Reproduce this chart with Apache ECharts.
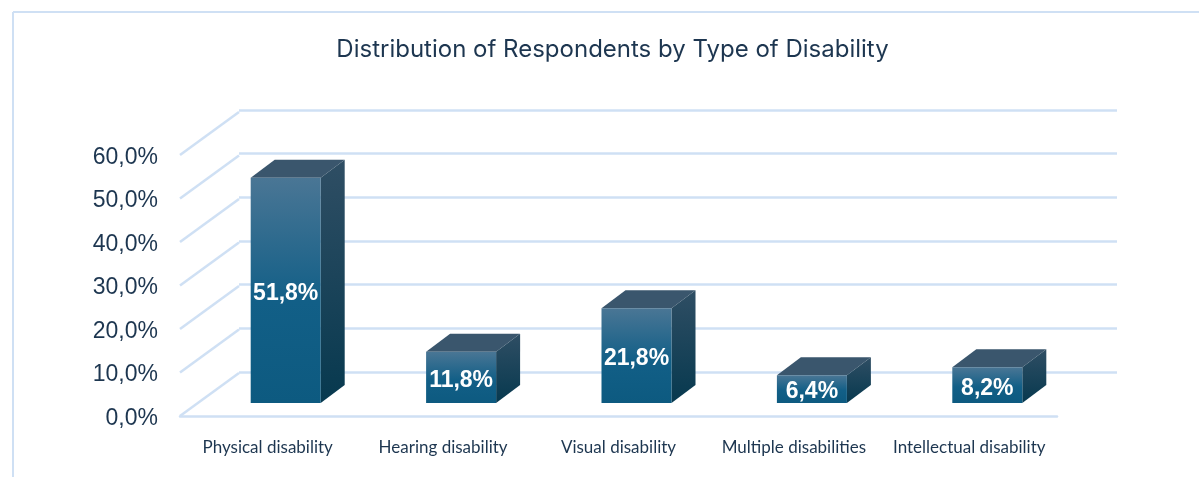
<!DOCTYPE html>
<html><head><meta charset="utf-8">
<style>html,body{margin:0;padding:0;background:#fff}#c{width:1199px;height:477px}</style>
<script src="https://cdn.jsdelivr.net/npm/echarts@6/dist/echarts.min.js"></script>
</head><body><div id="c"></div>
<script>
const categories = ['Physical disability','Hearing disability','Visual disability','Multiple disabilities','Intellectual disability'];
const shares = [51.8, 11.8, 21.8, 6.4, 8.2];
const tickValues = [0, 10, 20, 30, 40, 50, 60];
const chartTitle = 'Distribution of Respondents by Type of Disability';

const pct = v => v.toFixed(1).replace('.', ',') + '%';
const LINE = '#cfe0f4', INK = '#1d3650';
const WALL_DX = 59, WALL_DY = -43;
const BAR_W = 70, BAR_DX = 24, BAR_DY = -18;
const vGrad = (a, b, c) => new echarts.graphic.LinearGradient(0, 0, 0, 1,
  c ? [{offset:0,color:a},{offset:.55,color:b},{offset:1,color:c}] : [{offset:0,color:a},{offset:1,color:b}]);

const chart = echarts.init(document.getElementById('c'), null, {renderer:'canvas'});
chart.setOption({
  animation:false,
  backgroundColor:'#fff',
  title:{text:chartTitle,left:607.5,top:33,textAlign:'center',
    textStyle:{fontFamily:'Inter',fontWeight:400,fontSize:24,color:INK}},
  graphic:[
    {type:'line',silent:true,shape:{x1:13,y1:12,x2:1199,y2:12},style:{stroke:LINE,lineWidth:2}},
    {type:'line',silent:true,shape:{x1:13,y1:12,x2:13,y2:477},style:{stroke:LINE,lineWidth:2}}
  ],
  grid:[
    {left:180,top:155,width:877,height:261},   // front plane
    {left:239,top:110,width:878,height:262},   // back wall
    {left:198,top:142,width:877,height:261},   // plane of the bars
    {left:180,top:157.5,width:877,height:261}  // tick labels of the value axis
  ],
  xAxis:[
    {type:'category',gridIndex:0,data:categories,axisTick:{show:false},
      axisLine:{lineStyle:{color:LINE,width:2.5}},
      axisLabel:{margin:23,fontFamily:'Lato',fontSize:17,color:INK,interval:0}},
    {type:'category',gridIndex:1,data:categories,axisTick:{show:false},axisLine:{show:false},axisLabel:{show:false}},
    {type:'category',gridIndex:2,data:categories,axisTick:{show:false},axisLine:{show:false},axisLabel:{show:false}},
    {type:'category',gridIndex:3,data:categories,axisTick:{show:false},axisLine:{show:false},axisLabel:{show:false}}
  ],
  yAxis:[
    {type:'value',gridIndex:0,min:0,max:60,interval:10,axisLine:{show:false},axisTick:{show:false},
      splitLine:{show:false},axisLabel:{show:false}},
    {type:'value',gridIndex:1,min:0,max:60,interval:10,axisLine:{show:false},axisTick:{show:false},
      axisLabel:{show:false},splitLine:{lineStyle:{color:LINE,width:2.5}}},
    {type:'value',gridIndex:2,min:0,max:60,interval:10,axisLine:{show:false},axisTick:{show:false},
      axisLabel:{show:false},splitLine:{show:false}},
    {type:'value',gridIndex:3,min:0,max:60,interval:10,axisLine:{show:false},axisTick:{show:false},
      splitLine:{show:false},
      axisLabel:{margin:22,fontFamily:'Liberation Sans',fontSize:23,color:INK,formatter:pct}}
  ],
  series:[
    {type:'custom',xAxisIndex:0,yAxisIndex:0,silent:true,z:1,
      data:tickValues.map(v=>[0,v]),
      renderItem(params,api){
        const y = api.coord([0,api.value(1)])[1], x = params.coordSys.x;
        return {type:'line',shape:{x1:x,y1:y,x2:x+WALL_DX,y2:y+WALL_DY},style:{stroke:LINE,lineWidth:2.5}};
      }},
    {type:'custom',xAxisIndex:2,yAxisIndex:2,silent:true,z:5,
      data:shares.map((v,i)=>[i,v]),
      label:{show:false},
      renderItem(params,api){
        const [cx,top] = api.coord([api.value(0),api.value(1)]);
        const base = api.coord([api.value(0),0])[1];
        const l = cx-BAR_W/2, r = cx+BAR_W/2, h = base-top;
        const midY = Math.min(h/2+3, h);
        return {type:'group',children:[
          {type:'polygon',shape:{points:[[l,top],[l+BAR_DX,top+BAR_DY],[r+BAR_DX,top+BAR_DY],[r,top]]},
            style:{fill:'#3a566d'}},
          {type:'polygon',shape:{points:[[r,top],[r+BAR_DX,top+BAR_DY],[r+BAR_DX,base+BAR_DY],[r,base]]},
            style:{fill:vGrad('#2f4e64','#07394f')}},
          {type:'rect',shape:{x:l,y:top,width:BAR_W,height:h},
            style:{fill:vGrad('#4a7695','#125f87','#0d5a80')}},
          {type:'text',x:cx,y:top+midY,style:{text:pct(api.value(1)),align:'center',verticalAlign:'middle',
            fontFamily:'Liberation Sans',fontWeight:'bold',fontSize:23,fill:'#fff'}}
        ]};
      }}
  ]
});
</script></body></html>
